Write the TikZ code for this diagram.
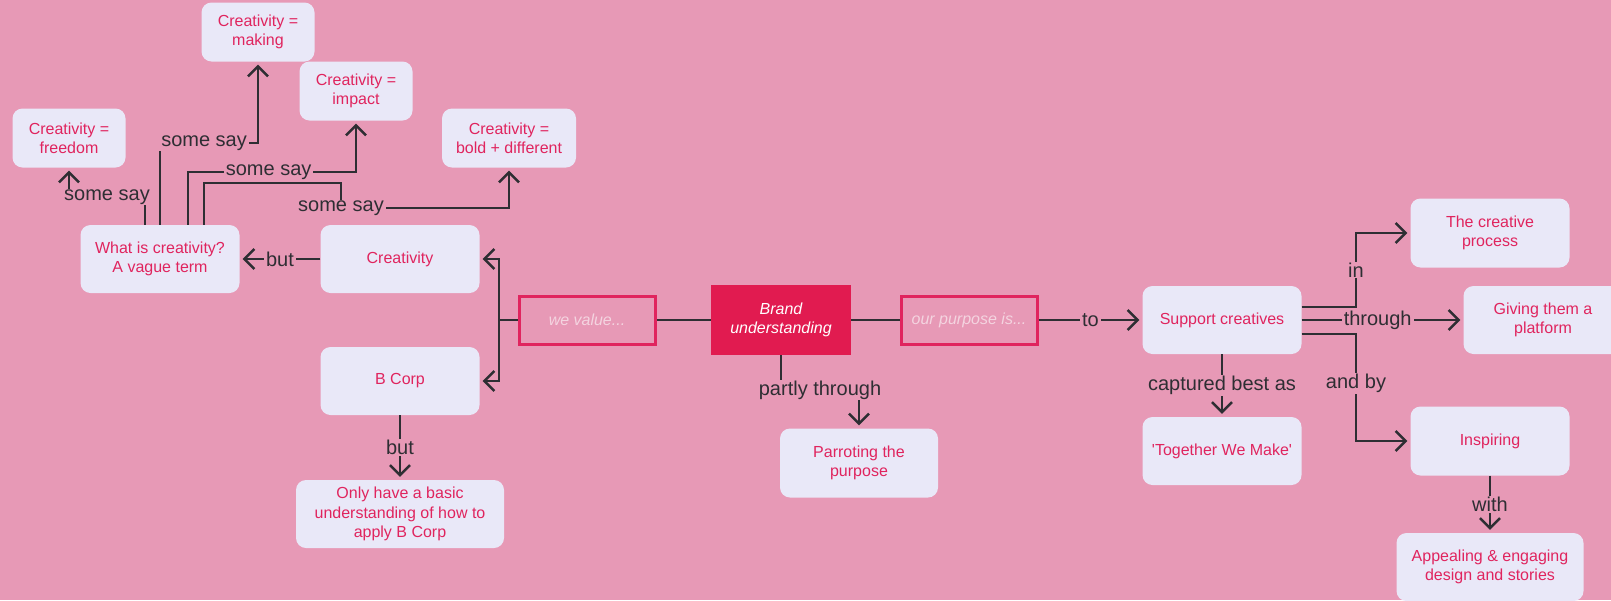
\documentclass[tikz,border=0pt]{standalone}
\usepackage{fontspec}
\setmainfont{Liberation Sans}
\usetikzlibrary{arrows.meta}
\definecolor{bg}{HTML}{E799B6}
\definecolor{lav}{HTML}{E9E8F8}
\definecolor{crim}{HTML}{E0245E}
\definecolor{brandred}{HTML}{E11B50}
\definecolor{ln}{HTML}{2E2E33}
\definecolor{ghost}{HTML}{F4D4E0}
\begin{document}
\begin{tikzpicture}[x=1pt,y=-1pt,
  sz/.style 2 args={minimum width=#1pt, minimum height=#2pt},
  box/.style={fill=lav, rounded corners=10pt, text=crim, align=center, font=\fontsize{16}{19.3}\selectfont, inner sep=0pt},
  brandbox/.style={fill=brandred, text=white, align=center, font=\fontsize{16}{19.3}\selectfont\itshape, inner sep=0pt},
  ghostbox/.style={draw=crim, line width=3pt, fill=bg, text=ghost, font=\fontsize{16}{19.3}\selectfont\itshape, inner sep=0pt},
  conn/.style={draw=ln, line width=2.5pt},
  arr/.style={conn, -{Straight Barb[length=10pt,width=20pt]}, shorten >=3pt},
  lbl/.style={fill=bg, text=ln, font=\fontsize{20}{24}\selectfont, inner xsep=2pt, inner ysep=1pt}
]
\fill[bg] (0,0) rectangle (1611,600);
\useasboundingbox (0,0) rectangle (1611,600);

% nodes
\node[box, sz={113}{59}] (making) at (258,32) {Creativity =\\making};
\node[box, sz={113}{59}] (impact) at (356,91) {Creativity =\\impact};
\node[box, sz={113}{59}] (freedom) at (69,138) {Creativity =\\freedom};
\node[box, sz={134}{59}] (bold) at (509,138) {Creativity =\\bold + different};
\node[box, sz={159}{68}] (what) at (160,259) {What is creativity?\\A vague term};
\node[box, sz={159}{68}] (crea) at (400,259) {Creativity};
\node[box, sz={159}{68}] (bcorp) at (400,381) {B Corp};
\node[box, sz={208}{68}] (only) at (400,514) {Only have a basic\\understanding of how to\\apply B Corp};
\node[ghostbox, sz={136}{48}] (wevalue) at (587,320) {we value...};
\node[brandbox, sz={140}{70}] (brand) at (781,320) {Brand\\understanding};
\node[ghostbox, sz={136}{48}] (purpose) at (969,320) {our purpose is...};
\node[box, sz={158}{69}] (parrot) at (859,463) {Parroting the\\purpose};
\node[box, sz={159}{68}] (support) at (1222,320) {Support creatives};
\node[box, sz={159}{68}] (together) at (1222,451) {\textquotesingle Together We Make\textquotesingle};
\node[box, sz={159}{69}] (process) at (1490,233) {The creative\\process};
\node[box, sz={159}{68}] (giving) at (1543,320) {Giving them a\\platform};
\node[box, sz={159}{69}] (inspiring) at (1490,441) {Inspiring};
\node[box, sz={187}{68}] (appealing) at (1490,567) {Appealing \& engaging\\design and stories};

% connectors from "What is creativity?"
\draw[arr] ([xshift=-15pt]what.north) -- (145,197) -- node[lbl]{some say} (freedom.south |- 0,197) -- (freedom.south);
\draw[arr] (what.north) -- (160,143) -- node[lbl, pos=0.45]{some say} (making.south |- 0,143) -- (making.south);
\draw[arr] ([xshift=28pt]what.north) -- (188,172) -- node[lbl, pos=0.48]{some say} (impact.south |- 0,172) -- (impact.south);
\draw[arr] ([xshift=44pt]what.north) -- (204,183) -- (341,183) -- (341,208) -- (bold.south |- 0,208) -- (bold.south)
  node[lbl] at (341,208) {some say};

\draw[arr] (crea.west) -- node[lbl]{but} (what.east);

% we value
\coordinate (j) at (499,320);
\draw[conn] (wevalue.west) -- (j);
\draw[arr] (j) |- (crea.east);
\draw[arr] (j) |- (bcorp.east);
\draw[conn] (brand.west) -- (wevalue.east);
\draw[arr] (bcorp.south) -- node[lbl]{but} (only.north);

% brand
\draw[arr] (brand.south) -- (781,390) -- node[lbl]{partly through} (parrot.north |- 0,390) -- (parrot.north);
\draw[conn] (brand.east) -- (purpose.west);
\draw[arr] (purpose.east) -- node[lbl]{to} (support.west);

% support creatives
\draw[arr] (support.south) -- node[lbl]{captured best as} (together.north);
\draw[arr] (support.east |- 0,307) -- (1356,307) -- node[lbl]{in} (1356,233) -- (process.west);
\draw[arr] (support.east) -- node[lbl, pos=0.47]{through} (giving.west);
\draw[arr] (support.east |- 0,334) -- (1356,334) -- node[lbl, pos=0.46]{and by} (1356,441) -- (inspiring.west);
\draw[arr] (inspiring.south) -- node[lbl]{with} (appealing.north);
\end{tikzpicture}
\end{document}
